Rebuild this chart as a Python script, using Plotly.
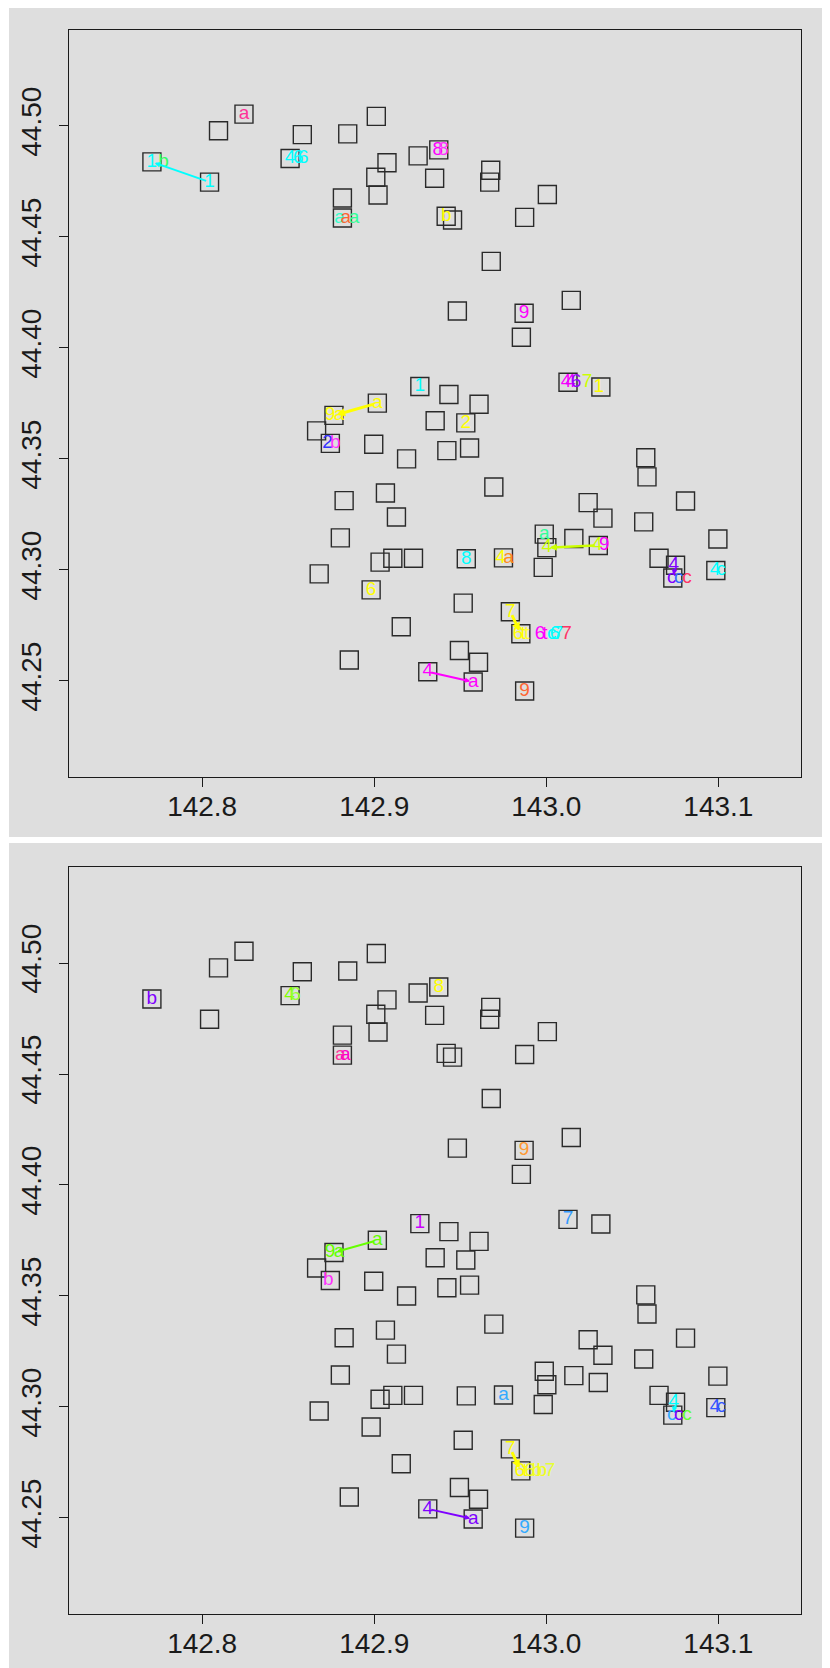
import plotly.graph_objects as go

# ---- site positions (longitude, latitude), shared by both panels ----
site_lon = [142.7708, 142.8043, 142.8095, 142.8243, 142.8511, 142.8582, 142.8815, 142.8815, 142.8846, 142.9012,
            142.9009, 142.9022, 142.9074, 142.9255, 142.9375, 142.9351, 142.9418, 142.9455, 142.9677, 142.9671,
            143.0006, 142.9874, 142.9680, 142.9483, 142.9871, 142.9855, 143.0145, 143.0126, 143.0317, 142.9265,
            142.9434, 142.9609, 142.9354, 142.9532, 142.9422, 142.9554, 142.9018, 142.8766, 142.8665, 142.8745,
            142.8997, 142.9188, 142.9695, 142.8825, 142.9065, 142.9129, 142.8803, 142.8680, 142.9034, 142.9108,
            142.9228, 142.9535, 142.9751, 142.9988, 143.0003, 142.9982, 143.0160, 143.0302, 143.0243, 143.0329,
            143.0578, 143.0585, 143.0566, 143.0809, 143.0655, 143.0751, 143.0735, 143.0997, 143.0985, 142.8982,
            142.9517, 142.9791, 142.9852, 142.9157, 142.8855, 142.9495, 142.9606, 142.9311, 142.9575, 142.9874]
site_lat = [44.4838, 44.4747, 44.4978, 44.5053, 44.4853, 44.4961, 44.4675, 44.4585, 44.4964, 44.5043,
            44.4769, 44.4689, 44.4834, 44.4865, 44.4892, 44.4764, 44.4593, 44.4576, 44.4800, 44.4747,
            44.4691, 44.4588, 44.4390, 44.4166, 44.4156, 44.4048, 44.4214, 44.3845, 44.3824, 44.3826,
            44.3790, 44.3746, 44.3672, 44.3662, 44.3537, 44.3549, 44.3751, 44.3696, 44.3626, 44.3570,
            44.3566, 44.3500, 44.3373, 44.3312, 44.3346, 44.3238, 44.3144, 44.2982, 44.3035, 44.3052,
            44.3052, 44.3050, 44.3054, 44.3161, 44.3100, 44.3011, 44.3141, 44.3110, 44.3303, 44.3233,
            44.3505, 44.3419, 44.3216, 44.3310, 44.3052, 44.3021, 44.2963, 44.3139, 44.2997, 44.2910,
            44.2850, 44.2811, 44.2712, 44.2744, 44.2594, 44.2637, 44.2584, 44.2541, 44.2495, 44.2454]

x_ticks = [142.8, 142.9, 143.0, 143.1]
x_ticktext = ["142.8", "142.9", "143.0", "143.1"]
y_ticks = [44.25, 44.30, 44.35, 44.40, 44.45, 44.50]
y_ticktext = ["44.25", "44.30", "44.35", "44.40", "44.45", "44.50"]

# ---- top panel labels: site number (1-based), longitude shift, text, colour ----
top_lab_site = [1, 1, 2, 4, 5, 5, 5, 8, 8, 8, 15, 15, 17, 25, 28, 28, 28, 28, 29, 30, 34, 37, 38, 38, 40, 40,
                52, 53, 53, 54, 55, 58, 58, 70, 72, 73, 73, 73, 73, 73, 73, 73, 73, 73, 78, 79, 80,
                66, 67, 67, 67, 69, 69]
top_lab_dlon = [-0.0001, 0.0068, 0.0, 0.0, 0.0, 0.0047, 0.0076, -0.0017, 0.0020, 0.0067, -0.0006, 0.0027, 0.0,
                0.0, -0.0012, 0.0015, 0.0047, 0.0111, -0.0012, 0.0, 0.0, 0.0, -0.0023, 0.0029, -0.0017, 0.0029,
                0.0, -0.0017, 0.0029, 0.0, 0.0, -0.0006, 0.0035, 0.0, 0.0, -0.0016, 0.0013, 0.0033, 0.0111,
                0.0140, 0.0179, 0.0198, 0.0217, 0.0266, 0.0, 0.0, 0.0,
                -0.0010, -0.0006, 0.0034, 0.0082, -0.0004, 0.0031]
top_lab_text = ["1", "b", "1", "a", "4", "6", "6", "a", "a", "a", "8", "8", "b", "9", "4", "4", "6", "7", "1",
                "1", "2", "a", "9", "a", "2", "b", "8", "4", "a", "a", "4", "4", "9", "6", "7", "6", "t", "t",
                "6", "t", "c", "6", "7", "7", "4", "a", "9", "4", "c", "c", "c", "4", "c"]
top_lab_color = ["#00FFFF", "#33FF66", "#00FFFF", "#FF3399", "#00FFFF", "#00FFFF", "#00FFFF", "#33FFCC",
                 "#FF6633", "#33FF99", "#FF00FF", "#FF33FF", "#FFFF00", "#FF00FF", "#FF00FF", "#E600FF",
                 "#9900FF", "#CCFF00", "#FFFF00", "#00FFFF", "#FFFF00", "#FFFF00", "#FFFF00", "#FFFF00",
                 "#3333FF", "#FF33FF", "#00FFFF", "#FFFF00", "#FF8C1A", "#33FF99", "#CCFF00", "#CCFF00",
                 "#FF00FF", "#FFFF00", "#FFFF00", "#FFFF00", "#FFFF00", "#FFFF33", "#FF00FF", "#FF00FF",
                 "#00FFFF", "#00FFFF", "#00FFFF", "#FF3366", "#FF00FF", "#FF00FF", "#FF6633",
                 "#8000FF", "#8000FF", "#3366FF", "#FF3366", "#00FFFF", "#00FFFF"]
# top panel arrows: tail site, head site, colour, width
top_arr_tail = [2, 37, 58, 72, 78, 66]
top_arr_head = [1, 38, 55, 73, 79, 67]
top_arr_color = ["#00FFFF", "#FFFF00", "#CCFF00", "#FFFF00", "#FF00FF", "#8000FF"]
top_arr_width = [2, 3, 2.5, 3, 2, 2]

# ---- bottom panel labels ----
bot_lab_site = [1, 5, 5, 8, 8, 15, 25, 28, 30, 37, 38, 38, 40, 53, 72, 73, 73, 73, 73, 73, 73, 78, 79, 80,
                66, 67, 67, 67, 69, 69]
bot_lab_dlon = [0.0, -0.0003, 0.0032, -0.0012, 0.0017, 0.0, 0.0, 0.0, 0.0, 0.0, -0.0023, 0.0029, -0.0012, 0.0,
                0.0, -0.0006, 0.0023, 0.0052, 0.0093, 0.0122, 0.0169, 0.0, 0.0, 0.0,
                -0.0010, -0.0006, 0.0034, 0.0082, -0.0004, 0.0031]
bot_lab_text = ["b", "4", "6", "a", "a", "8", "9", "7", "1", "a", "9", "a", "b", "a", "7", "6", "t", "6", "b",
                "b", "7", "4", "a", "9", "4", "c", "c", "c", "4", "c"]
bot_lab_color = ["#8000FF", "#80FF00", "#99FF33", "#FF3399", "#FF00CC", "#FFFF00", "#FF9933", "#3399FF",
                 "#CC00FF", "#66FF00", "#66FF00", "#66FF00", "#FF33FF", "#33AAFF", "#FFFF00", "#FFFF00",
                 "#FFFF00", "#F0FF20", "#F0FF20", "#F0FF20", "#E6FF33", "#7F00FF", "#7F00FF", "#33AAFF",
                 "#00FFFF", "#33AAFF", "#8000FF", "#66FF33", "#3355FF", "#3355FF"]
bot_arr_tail = [37, 72, 78, 66]
bot_arr_head = [38, 73, 79, 67]
bot_arr_color = ["#66FF00", "#FFFF00", "#7F00FF", "#00FFFF"]
bot_arr_width = [2, 3, 2, 2]

# page is drawn inside the browser's default 8 px body margin
W, H = 822, 1660
PANEL_BG = "#DEDEDE"
INK = "#1a1a1a"

fig = go.Figure()
annotations = []


def add_panel(xa, ya, lab_site, lab_dlon, lab_text, lab_color, arr_tail, arr_head, arr_color, arr_width):
    fig.add_trace(go.Scatter(x=site_lon, y=site_lat, mode="markers", xaxis=xa, yaxis=ya,
                             marker=dict(symbol="square-open", size=18, color="#2a2a2a",
                                         line=dict(width=1.4, color="#2a2a2a")),
                             hoverinfo="skip", showlegend=False))
    for t, h, c, w in zip(arr_tail, arr_head, arr_color, arr_width):
        annotations.append(dict(x=site_lon[h - 1], y=site_lat[h - 1], ax=site_lon[t - 1], ay=site_lat[t - 1],
                                xref=xa, yref=ya, axref=xa, ayref=ya, text="", showarrow=True,
                                arrowhead=2, arrowsize=0.55, arrowwidth=w, arrowcolor=c,
                                standoff=3, startstandoff=2))
    lx = [site_lon[s - 1] + d for s, d in zip(lab_site, lab_dlon)]
    ly = [site_lat[s - 1] for s in lab_site]
    fig.add_trace(go.Scatter(x=lx, y=ly, mode="text", text=lab_text, xaxis=xa, yaxis=ya,
                             textposition="middle center",
                             textfont=dict(family="Liberation Sans, Arial, sans-serif", size=19, color=lab_color),
                             hoverinfo="skip", showlegend=False))


add_panel("x", "y", top_lab_site, top_lab_dlon, top_lab_text, top_lab_color,
          top_arr_tail, top_arr_head, top_arr_color, top_arr_width)
add_panel("x2", "y2", bot_lab_site, bot_lab_dlon, bot_lab_text, bot_lab_color,
          bot_arr_tail, bot_arr_head, bot_arr_color, bot_arr_width)

tickfont = dict(family="Liberation Sans, Arial, sans-serif", size=28, color=INK)
axis_common = dict(showgrid=False, zeroline=False, showline=True, mirror=True, linecolor=INK, linewidth=1.3,
                   ticks="outside", ticklen=9, tickwidth=1.3, tickcolor=INK, tickfont=tickfont)

x_dom = [60.8 / W, 793.0 / W]
x_rng = [142.7225, 143.148]
y_rng = [44.2069, 44.5434]

fig.update_layout(
    width=W, height=H, margin=dict(l=0, r=0, t=0, b=0),
    paper_bgcolor="white", plot_bgcolor=PANEL_BG, showlegend=False,
    xaxis=dict(domain=x_dom, range=x_rng, tickvals=x_ticks, ticktext=x_ticktext, anchor="y",
               ticklabelstandoff=-4, **axis_common),
    yaxis=dict(domain=[1 - 768.5 / H, 1 - 21.6 / H], range=y_rng, tickvals=y_ticks, ticktext=y_ticktext,
               tickangle=-90, anchor="x", ticklabelstandoff=6, **axis_common),
    xaxis2=dict(domain=x_dom, range=x_rng, tickvals=x_ticks, ticktext=x_ticktext, anchor="y2",
                ticklabelstandoff=-4, **axis_common),
    yaxis2=dict(domain=[1 - 1605.6 / H, 1 - 858.7 / H], range=y_rng, tickvals=y_ticks, ticktext=y_ticktext,
                tickangle=-90, anchor="x2", ticklabelstandoff=6, **axis_common),
    shapes=[
        dict(type="rect", xref="paper", yref="paper", x0=1 / W, x1=1, y0=1 - 829 / H, y1=1,
             fillcolor=PANEL_BG, line=dict(width=0), layer="below"),
        dict(type="rect", xref="paper", yref="paper", x0=1 / W, x1=1, y0=0, y1=1 - 835 / H,
             fillcolor=PANEL_BG, line=dict(width=0), layer="below"),
    ],
    annotations=annotations,
)

fig.write_html("out.html")
